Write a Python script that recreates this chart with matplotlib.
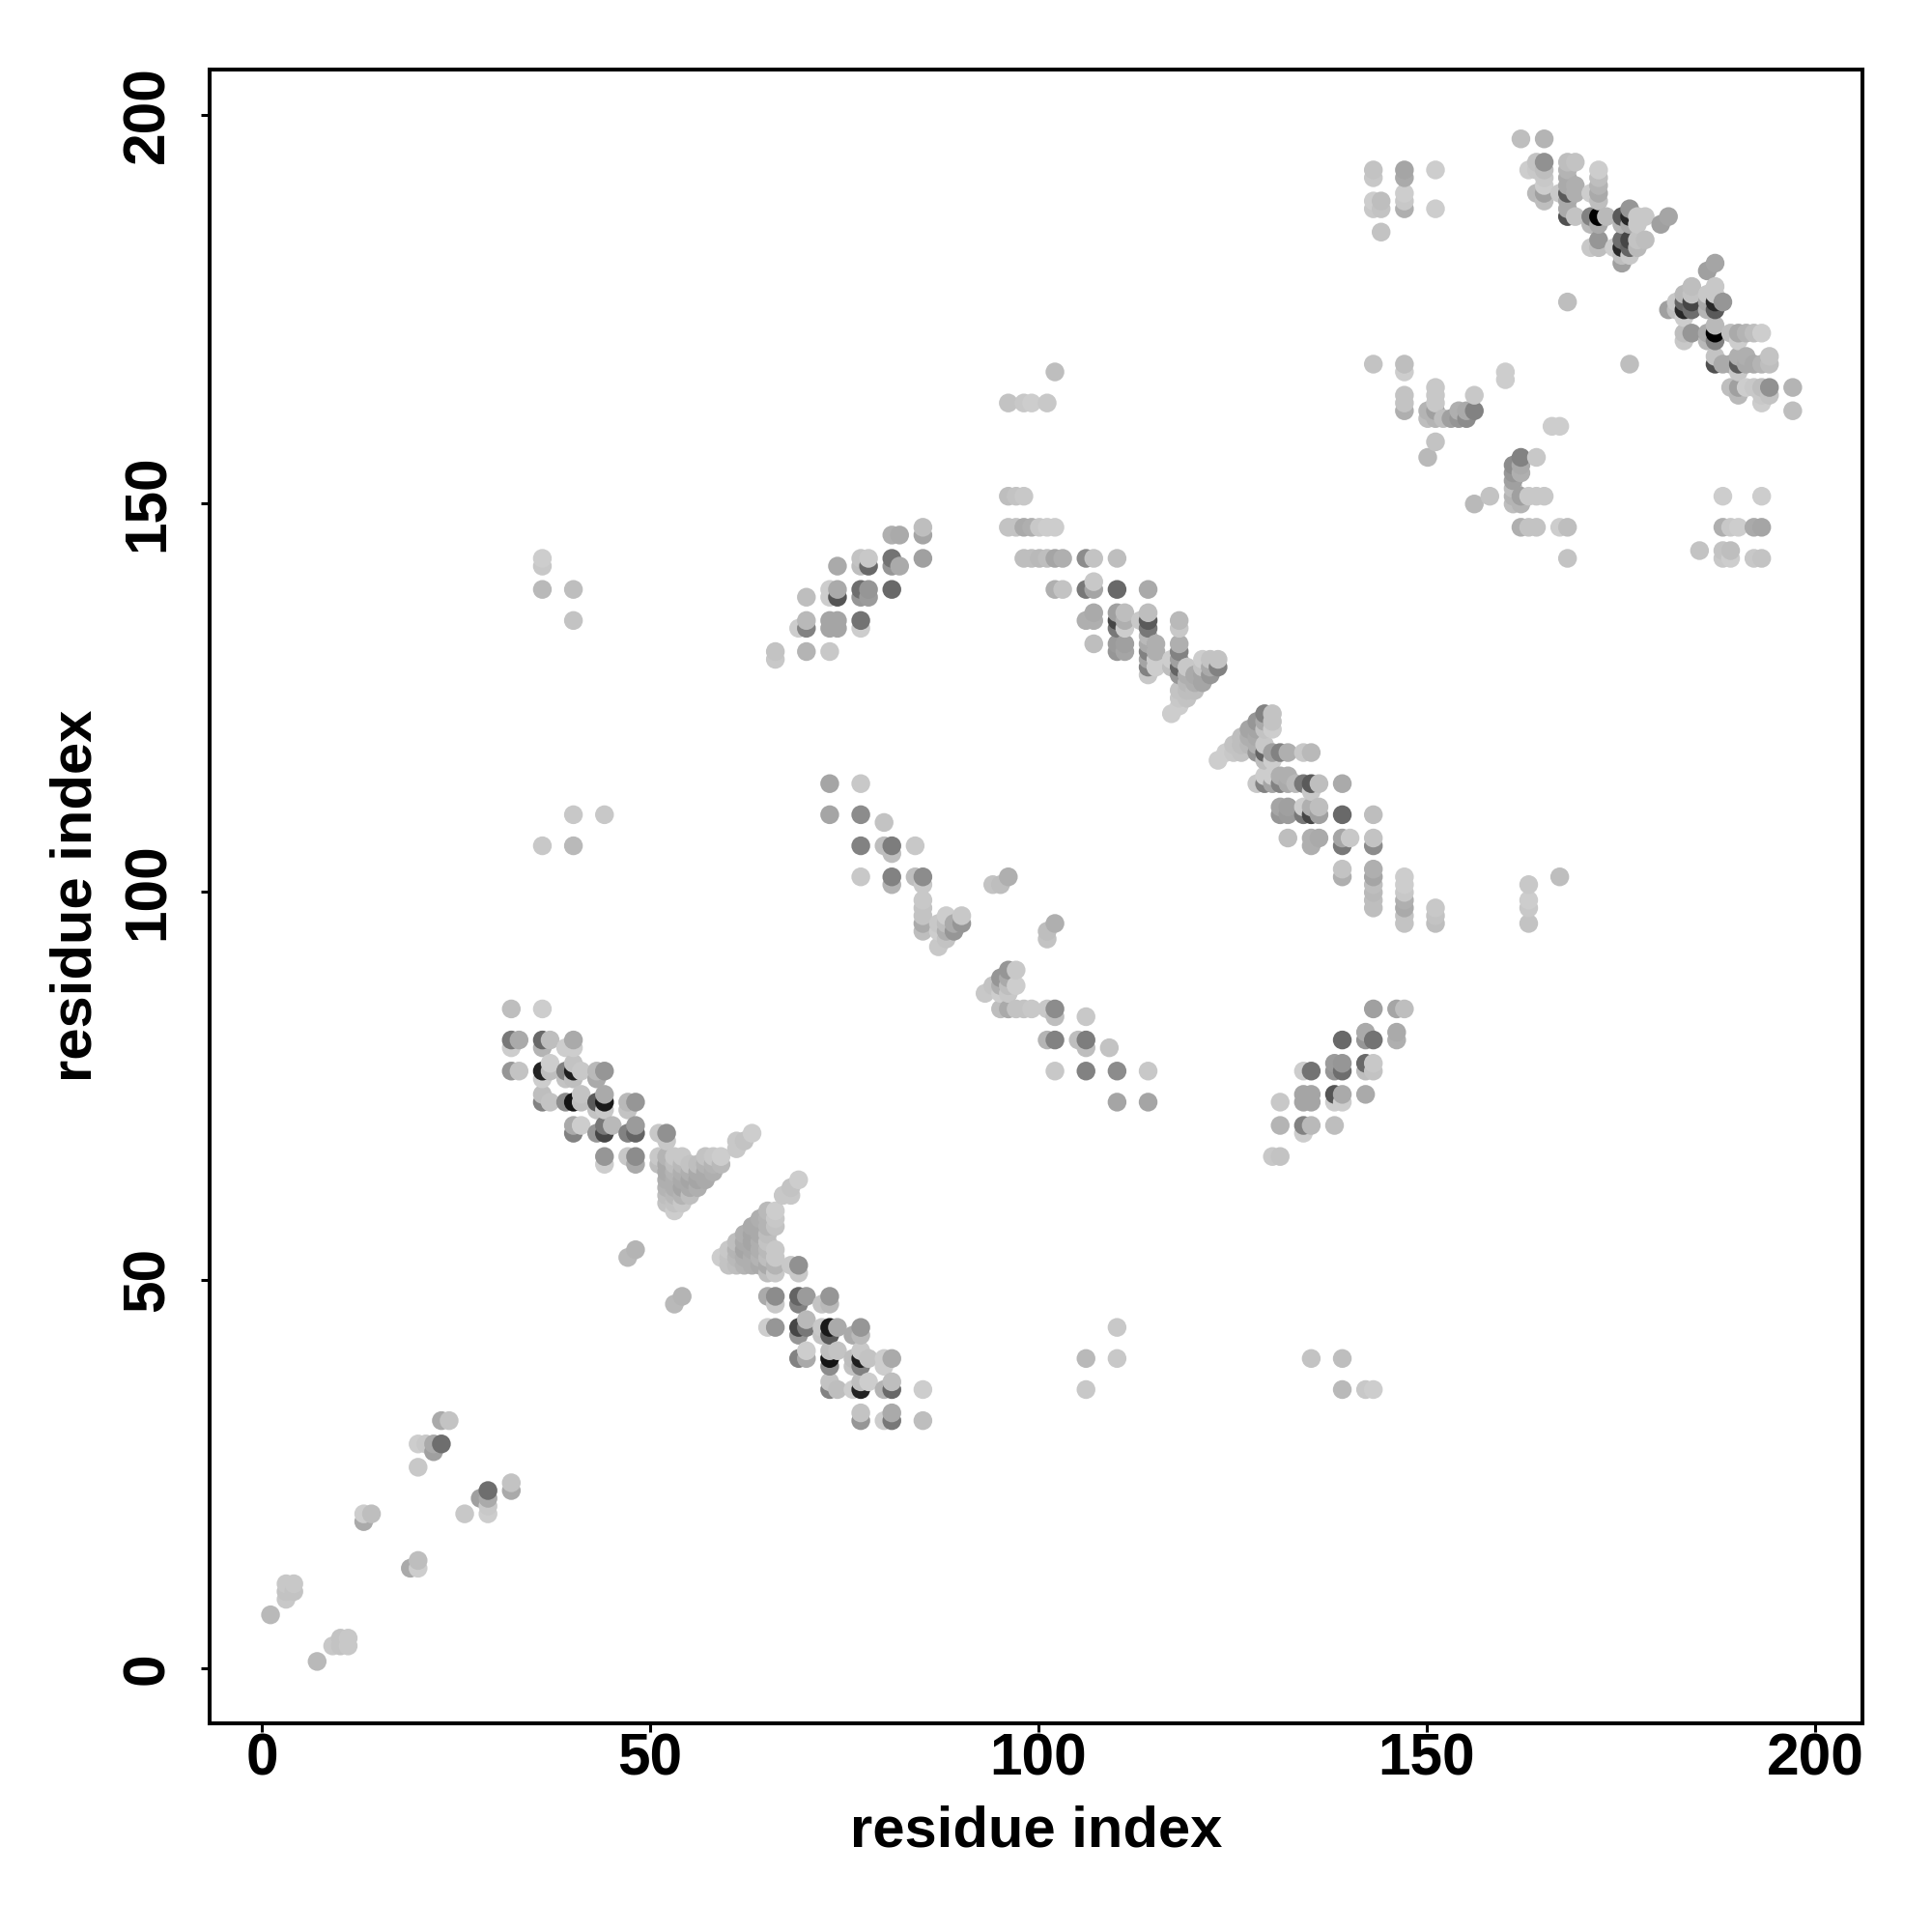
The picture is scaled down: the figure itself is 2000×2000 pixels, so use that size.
import numpy as np
import matplotlib
matplotlib.use("Agg")
import matplotlib.pyplot as plt
from matplotlib.transforms import offset_copy

# Contact map is symmetric, so only the i < j half is listed here.
# Each entry is (i, j, grey level 0-255)
near_start = [
    (1, 7, 185), (3, 9, 200), (3, 10, 195), (3, 11, 200), (4, 10, 195), (4, 11, 200),
    (13, 19, 170), (13, 20, 205), (14, 20, 190),
    (20, 26, 200), (20, 29, 205), (21, 29, 200), (22, 28, 160), (22, 29, 170), (23, 29, 110),
    (23, 32, 170), (24, 32, 195),
]

strand_a = [
    (32, 77, 150), (32, 80, 205), (32, 81, 120), (32, 85, 190),
    (33, 77, 195), (33, 81, 170),
    (36, 73, 130), (36, 74, 190), (36, 76, 205), (36, 77, 35), (36, 80, 180), (36, 81, 105), (36, 85, 205),
    (37, 73, 195), (37, 77, 190), (37, 78, 205), (37, 81, 190),
    (39, 73, 140), (39, 76, 195), (39, 77, 130), (39, 80, 205),
    (40, 69, 130), (40, 70, 170), (40, 73, 20), (40, 76, 190), (40, 77, 30), (40, 78, 195), (40, 80, 205), (40, 81, 170),
    (41, 70, 205), (41, 73, 190), (41, 74, 195), (41, 77, 200),
    (43, 69, 150), (43, 72, 195), (43, 73, 90), (43, 76, 170), (43, 77, 185),
    (44, 65, 205), (44, 66, 150), (44, 69, 70), (44, 70, 120), (44, 72, 200), (44, 73, 25), (44, 74, 170), (44, 77, 150),
    (45, 70, 185),
    (47, 53, 185), (47, 66, 200), (47, 69, 130), (47, 72, 195), (47, 73, 185),
    (48, 54, 180), (48, 65, 170), (48, 66, 140), (48, 69, 100), (48, 70, 155), (48, 73, 150),
    (51, 65, 190), (51, 66, 200), (51, 69, 200),
    (52, 68, 200), (52, 69, 145),
]

triangle_a = [
    (52, 60, 195), (52, 61, 190), (52, 62, 180), (52, 63, 175), (52, 64, 170), (52, 65, 170), (52, 66, 180),
    (53, 59, 205), (53, 60, 195), (53, 61, 185), (53, 62, 175), (53, 63, 175), (53, 64, 180), (53, 65, 190), (53, 66, 200),
    (54, 60, 200), (54, 61, 180), (54, 62, 165), (54, 63, 170), (54, 64, 175), (54, 65, 185), (54, 66, 200),
    (55, 61, 190), (55, 62, 170), (55, 63, 165), (55, 64, 175), (55, 65, 195),
    (56, 62, 175), (56, 63, 165), (56, 64, 170), (56, 65, 190),
    (57, 63, 170), (57, 64, 170), (57, 65, 180), (57, 66, 195),
    (58, 64, 175), (58, 65, 180), (58, 66, 200),
    (59, 65, 185), (59, 66, 205),
    (61, 67, 200), (61, 68, 200), (62, 68, 195), (63, 69, 205),
]

outliers_left = [
    (36, 106, 200), (40, 106, 185), (40, 110, 200), (44, 110, 200),
    (36, 139, 185), (36, 142, 200), (36, 143, 205), (40, 135, 195), (40, 139, 190),
]

strand_b = [
    (66, 130, 200), (66, 131, 195), (70, 131, 180), (73, 131, 200),
    (69, 134, 205), (70, 134, 130), (70, 135, 185),
    (73, 134, 165), (74, 134, 165), (73, 135, 165), (74, 135, 165), (77, 134, 205), (77, 135, 115),
    (70, 138, 190), (73, 138, 205), (74, 138, 85), (73, 139, 205), (74, 139, 170),
    (77, 138, 150), (78, 138, 155), (77, 139, 110), (78, 139, 150), (81, 139, 105),
    (74, 142, 170), (77, 142, 190), (78, 142, 105), (77, 143, 195), (78, 143, 200),
    (81, 142, 150), (81, 143, 115), (82, 142, 170),
    (81, 146, 175), (82, 146, 170), (85, 143, 160), (85, 146, 165), (85, 147, 190),
]

strand_d = [
    (73, 110, 165), (73, 114, 165), (77, 110, 140), (77, 114, 200),
    (80, 106, 190), (80, 109, 195), (77, 106, 130), (77, 102, 200),
    (81, 101, 180), (81, 102, 130), (81, 105, 190), (81, 106, 125),
    (84, 102, 190), (84, 106, 200), (85, 95, 190), (85, 96, 170), (85, 97, 195), (85, 98, 195),
    (85, 99, 200), (85, 101, 200), (85, 102, 140),
    (87, 93, 200), (87, 95, 205), (87, 96, 200), (88, 94, 195), (88, 95, 175), (88, 96, 190), (88, 97, 205),
    (89, 95, 150), (89, 96, 170), (90, 96, 150), (90, 97, 200),
    (94, 101, 195), (95, 101, 190), (96, 102, 175),
]

strand_c = [
    (96, 163, 195), (98, 163, 200), (99, 163, 205), (101, 163, 200), (102, 167, 190),
    (96, 151, 190), (97, 151, 195), (98, 151, 200),
    (96, 147, 195), (97, 147, 195), (98, 147, 170), (99, 147, 175), (100, 147, 200), (101, 147, 205), (102, 147, 205),
    (98, 143, 190), (99, 143, 190), (100, 143, 185), (101, 143, 190), (102, 143, 165), (103, 143, 175),
    (106, 143, 140), (107, 143, 195), (110, 143, 190),
    (102, 139, 175), (103, 139, 195), (106, 139, 120), (107, 139, 165), (107, 140, 200), (110, 139, 105), (114, 139, 170),
    (106, 135, 175), (107, 135, 175), (107, 136, 170), (107, 132, 190),
    (110, 131, 150), (110, 132, 155), (110, 134, 120), (110, 135, 70), (110, 136, 160),
    (111, 131, 165), (111, 132, 160), (111, 134, 205), (111, 135, 175), (111, 136, 190),
    (113, 135, 200),
    (114, 128, 200), (114, 129, 130), (114, 130, 165), (114, 131, 130), (114, 132, 170), (114, 133, 185),
    (114, 134, 120), (114, 135, 90), (114, 136, 190),
    (115, 129, 205), (115, 130, 205), (115, 131, 175), (115, 132, 175),
    (117, 123, 205), (117, 129, 190), (117, 130, 205),
    (118, 124, 205), (118, 125, 200), (118, 126, 195), (118, 128, 150), (118, 129, 100), (118, 130, 160),
    (118, 131, 130), (118, 132, 175), (118, 134, 200), (118, 135, 185),
    (119, 125, 195), (119, 126, 190), (119, 127, 185), (119, 128, 175), (119, 129, 200),
    (120, 126, 190), (120, 127, 175), (120, 128, 170),
    (121, 127, 165), (121, 128, 165), (121, 129, 195), (121, 130, 205),
    (122, 128, 150), (122, 129, 170), (122, 130, 195),
    (123, 129, 130), (123, 130, 195),
]

block_g = [
    (143, 188, 200), (143, 189, 205), (143, 192, 200), (143, 193, 195),
    (144, 185, 195), (144, 188, 195), (144, 189, 190),
    (147, 188, 175), (147, 189, 200), (147, 190, 205), (147, 192, 170), (147, 193, 165),
    (151, 188, 205), (151, 193, 205),
    (143, 168, 195), (147, 167, 205), (147, 168, 190),
    (147, 162, 175), (147, 163, 195), (147, 164, 195),
    (150, 156, 185), (150, 161, 190), (150, 162, 180),
    (151, 158, 195), (151, 161, 180), (151, 162, 160), (151, 163, 200), (151, 164, 200), (151, 165, 200),
    (152, 161, 190), (153, 161, 160), (154, 161, 150), (154, 162, 175),
    (155, 161, 140), (155, 162, 170), (156, 162, 130), (156, 164, 200),
    (160, 166, 205), (160, 167, 205),
]

strand_h = [
    (162, 197, 190), (165, 197, 180),
    (163, 193, 205), (164, 190, 185), (164, 193, 200), (164, 194, 195),
    (165, 189, 190), (165, 190, 160), (165, 191, 205), (165, 192, 200), (165, 193, 190), (165, 194, 145),
    (167, 190, 200),
    (168, 176, 190), (168, 187, 80), (168, 188, 170), (168, 189, 170), (168, 190, 90),
    (168, 191, 170), (168, 192, 170), (168, 193, 180), (168, 194, 190),
    (169, 187, 195), (169, 190, 175), (169, 191, 175), (169, 194, 195),
    (171, 183, 200), (171, 186, 185), (171, 187, 130), (171, 190, 205),
    (172, 183, 190), (172, 184, 150), (172, 186, 170), (172, 187, 0), (172, 189, 190), (172, 190, 170),
    (172, 191, 180), (172, 192, 190), (172, 193, 205),
    (173, 187, 185), (174, 183, 205),
    (175, 181, 160), (175, 182, 190), (175, 183, 40), (175, 184, 110), (175, 186, 180), (175, 187, 90),
    (176, 182, 200), (176, 183, 100), (176, 184, 70), (176, 186, 170), (176, 187, 40), (176, 188, 150),
    (177, 183, 185), (177, 184, 195), (177, 186, 200), (177, 187, 200),
    (178, 184, 190), (178, 187, 200),
    (180, 186, 160), (181, 187, 165),
]

tick_values = [0, 50, 100, 150, 200]
axis_label = "residue index"


def main():
    contacts = np.array(near_start + strand_a + triangle_a + outliers_left
                        + strand_b + strand_d + strand_c + block_g + strand_h,
                        dtype=float)

    # Both halves of the map, later points lie on top of earlier ones
    xs = np.concatenate([contacts[:, 0], contacts[:, 1]])
    ys = np.concatenate([contacts[:, 1], contacts[:, 0]])
    greys = np.concatenate([contacts[:, 2], contacts[:, 2]]) / 255.0
    order = np.lexsort((ys, xs))

    plt.rcParams["font.family"] = ["Liberation Sans", "DejaVu Sans"]
    plt.rcParams["font.weight"] = "bold"

    fig = plt.figure(figsize=(10, 10), dpi=200)
    ax = fig.add_axes([216.5 / 2000, 1 - 1783.5 / 2000, (1928 - 216.5) / 2000, (1783.5 - 72) / 2000])

    # Dots in the reference sit about a pixel off the tick positions
    dots = offset_copy(ax.transData, fig=fig, x=1, y=-1, units="dots")
    ax.scatter(xs[order], ys[order], c=np.column_stack([greys[order]] * 3),
               s=49, linewidths=0, transform=dots)

    ax.set_xlim(-6.78, 206.1)
    ax.set_ylim(-7.03, 205.8)
    ax.set_xticks(tick_values)
    ax.set_yticks(tick_values)
    ax.tick_params(axis="both", length=3.2, width=1.1, labelsize=21.8)
    ax.tick_params(axis="x", pad=0.4)
    ax.tick_params(axis="y", pad=9)
    for label in ax.get_yticklabels():
        label.set_rotation(90)
        label.set_verticalalignment("center")

    for spine in ax.spines.values():
        spine.set_linewidth(1.45)

    ax.set_xlabel(axis_label, fontsize=21.5, fontweight="bold", labelpad=6.3)
    ax.set_ylabel(axis_label, fontsize=21.5, fontweight="bold", labelpad=6.9)

    fig.savefig("out.png", dpi=200)


if __name__ == "__main__":
    main()
